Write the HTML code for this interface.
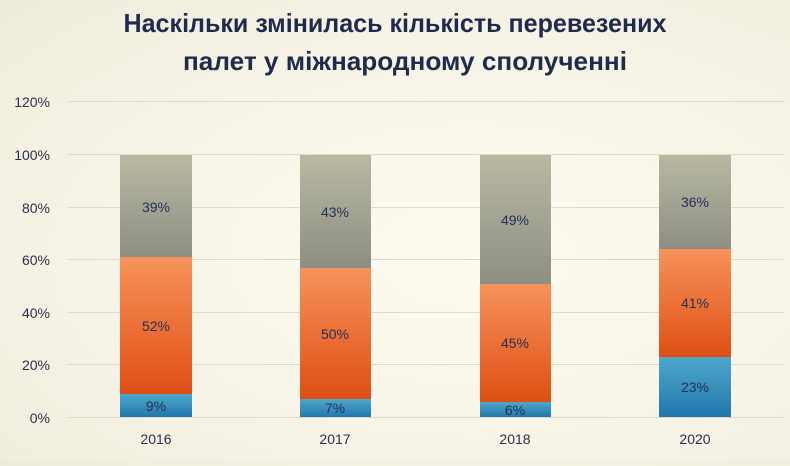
<!DOCTYPE html>
<html><head><meta charset="utf-8"><style>
html,body{margin:0;padding:0;}
body{width:790px;height:461px;overflow:hidden;background:radial-gradient(ellipse at 60% 55%,#fdfbf0 0%,#f6f3e6 60%,#efebdc 100%);}
</style></head><body>
<svg width="790" height="461" xmlns="http://www.w3.org/2000/svg" font-family="Liberation Sans, sans-serif">
<defs>
<linearGradient id="g" x1="0" y1="0" x2="0" y2="1"><stop offset="0" stop-color="#b8b9a2"/><stop offset="1" stop-color="#8e8e84"/></linearGradient>
<linearGradient id="o" x1="0" y1="0" x2="0" y2="1"><stop offset="0" stop-color="#f6935b"/><stop offset="1" stop-color="#df4f14"/></linearGradient>
<linearGradient id="b" x1="0" y1="0" x2="0" y2="1"><stop offset="0" stop-color="#4ea8cb"/><stop offset="1" stop-color="#2277ab"/></linearGradient>
</defs>
<text x="395" y="32" text-anchor="middle" font-size="26" font-weight="bold" fill="#1f2b4d" textLength="543" lengthAdjust="spacingAndGlyphs">Наскільки змінилась кількість перевезених</text>
<text x="405" y="70" text-anchor="middle" font-size="26" font-weight="bold" fill="#1f2b4d" textLength="444" lengthAdjust="spacingAndGlyphs">палет у міжнародному сполученні</text>
<g stroke="#dedbcc" stroke-width="1">
<line x1="67" x2="784" y1="101.5" y2="101.5"/><line x1="67" x2="784" y1="154.5" y2="154.5"/><line x1="67" x2="784" y1="207.5" y2="207.5"/><line x1="67" x2="784" y1="259.5" y2="259.5"/><line x1="67" x2="784" y1="312.5" y2="312.5"/><line x1="67" x2="784" y1="364.5" y2="364.5"/><line x1="67" x2="784" y1="417.5" y2="417.5"/>
</g>
<g font-size="14" fill="#2a3048" text-anchor="end">
<text x="50" y="107">120%</text><text x="50" y="160">100%</text><text x="50" y="213">80%</text><text x="50" y="265">60%</text><text x="50" y="318">40%</text><text x="50" y="370">20%</text><text x="50" y="423">0%</text>
</g>
<!-- 2016 -->
<rect x="120" y="155" width="72" height="102" fill="url(#g)"/>
<rect x="120" y="257" width="72" height="137" fill="url(#o)"/>
<rect x="120" y="394" width="72" height="23" fill="url(#b)"/>
<!-- 2017 -->
<rect x="300" y="155" width="71" height="113" fill="url(#g)"/>
<rect x="300" y="268" width="71" height="131" fill="url(#o)"/>
<rect x="300" y="399" width="71" height="18" fill="url(#b)"/>
<!-- 2018 -->
<rect x="480" y="155" width="71" height="129" fill="url(#g)"/>
<rect x="480" y="284" width="71" height="118" fill="url(#o)"/>
<rect x="480" y="402" width="71" height="15" fill="url(#b)"/>
<!-- 2020 -->
<rect x="659" y="155" width="72" height="94" fill="url(#g)"/>
<rect x="659" y="249" width="72" height="108" fill="url(#o)"/>
<rect x="659" y="357" width="72" height="60" fill="url(#b)"/>
<g font-size="14" fill="#243056" text-anchor="middle">
<text x="156" y="212">39%</text><text x="156" y="331">52%</text><text x="156" y="411">9%</text>
<text x="335" y="217">43%</text><text x="335" y="339">50%</text><text x="335" y="413">7%</text>
<text x="515" y="225">49%</text><text x="515" y="348">45%</text><text x="515" y="415">6%</text>
<text x="695" y="207">36%</text><text x="695" y="308">41%</text><text x="695" y="392">23%</text>
</g>
<g font-size="14" fill="#2a3048" text-anchor="middle">
<text x="156" y="444">2016</text><text x="335" y="444">2017</text><text x="515" y="444">2018</text><text x="695" y="444">2020</text>
</g>
</svg>
</body></html>
